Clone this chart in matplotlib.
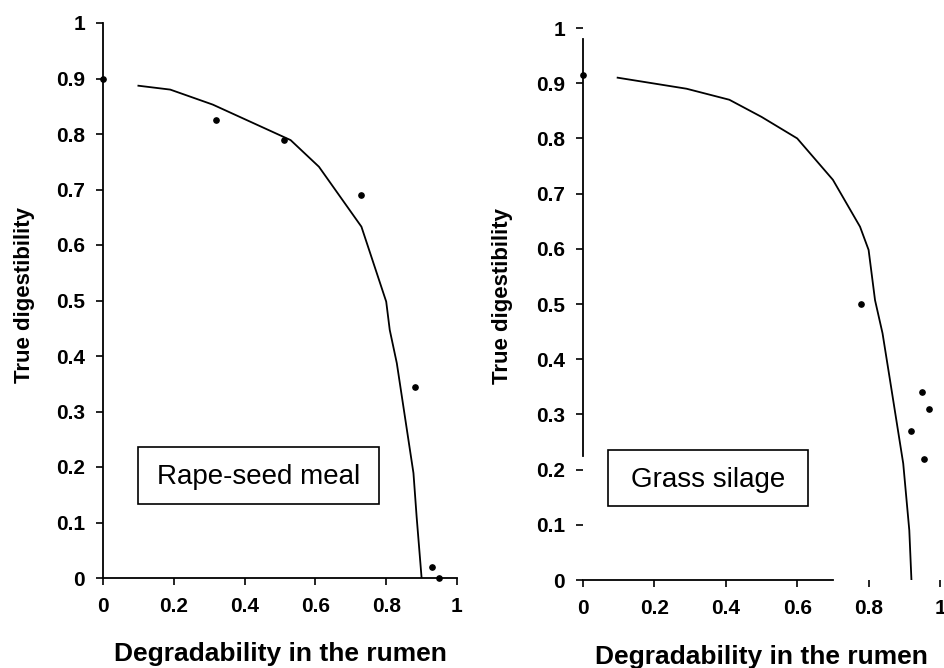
import matplotlib
matplotlib.use("Agg")
import matplotlib.pyplot as plt
from matplotlib.patches import Rectangle
from matplotlib.ticker import FuncFormatter

plt.rcParams["font.family"] = ["Liberation Sans", "DejaVu Sans"]

# ---------- data -------------------------------------------------------------

# rape-seed meal: measured points and fitted curve
rape_x = [0.0, 0.32, 0.51, 0.73, 0.88, 0.93, 0.95]
rape_y = [0.90, 0.825, 0.79, 0.69, 0.345, 0.02, 0.0]
rape_fit_x = [0.10, 0.19, 0.31, 0.53, 0.61, 0.73, 0.80, 0.81, 0.83, 0.877, 0.886, 0.90]
rape_fit_y = [0.887, 0.88, 0.853, 0.789, 0.741, 0.633, 0.498, 0.447, 0.387, 0.189, 0.11, 0.0]

# grass silage: measured points and fitted curve
grass_x = [0.0, 0.78, 0.95, 0.97, 0.92, 0.955]
grass_y = [0.915, 0.50, 0.34, 0.31, 0.27, 0.22]
grass_fit_x = [0.097, 0.29, 0.41, 0.50, 0.60, 0.70, 0.776, 0.80, 0.818, 0.839, 0.86, 0.897, 0.914, 0.92]
grass_fit_y = [0.91, 0.89, 0.87, 0.839, 0.80, 0.725, 0.64, 0.598, 0.507, 0.447, 0.362, 0.211, 0.09, 0.0]

x_ticks = [0, 0.2, 0.4, 0.6, 0.8, 1]
y_ticks = [0, 0.1, 0.2, 0.3, 0.4, 0.5, 0.6, 0.7, 0.8, 0.9, 1]

x_title = "Degradability in the rumen"
y_title = "True digestibility"


def fmt(v, _pos):
    return "%g" % v


def draw_panel(ax, px, py, fx, fy, name, box, ylab_xy, xlab_xy):
    ax.plot(fx, fy, color="black", lw=1.3)
    ax.plot(px, py, "o", color="black", ms=3.8, clip_on=False)

    ax.set_xlim(0, 1)
    ax.set_ylim(0, 1)
    ax.set_xticks(x_ticks)
    ax.set_yticks(y_ticks)
    ax.xaxis.set_major_formatter(FuncFormatter(fmt))
    ax.yaxis.set_major_formatter(FuncFormatter(fmt))
    ax.tick_params(direction="out", length=5, width=1.2, labelsize=15)
    ax.tick_params(axis="x", pad=9)
    ax.tick_params(axis="y", pad=8)
    for lab in ax.get_xticklabels() + ax.get_yticklabels():
        lab.set_fontweight("bold")

    for side in ("top", "right"):
        ax.spines[side].set_visible(False)
    for side in ("left", "bottom"):
        ax.spines[side].set_linewidth(1.3)

    ax.set_xlabel(x_title, fontsize=19, fontweight="bold")
    ax.set_ylabel(y_title, fontsize=16, fontweight="bold")
    ax.xaxis.set_label_coords(*xlab_xy)
    ax.yaxis.set_label_coords(*ylab_xy)

    # label box
    x0, y0, x1, y1 = box
    ax.add_patch(Rectangle((x0, y0), x1 - x0, y1 - y0, fill=False,
                           ec="black", lw=1.2))
    ax.text((x0 + x1) / 2, (y0 + y1) / 2 - 0.003, name, fontsize=20,
            ha="center", va="center")


fig = plt.figure(figsize=(9.44, 6.68), dpi=100)
ax1 = fig.add_axes([103 / 944, 90 / 668, 354 / 944, 555 / 668])
ax2 = fig.add_axes([583 / 944, 88 / 668, 357 / 944, 552 / 668])

draw_panel(ax1, rape_x, rape_y, rape_fit_x, rape_fit_y, "Rape-seed meal",
           (0.10, 0.133, 0.78, 0.236), (-0.192, 0.51), (0.5, -0.115))
draw_panel(ax2, grass_x, grass_y, grass_fit_x, grass_fit_y, "Grass silage",
           (0.069, 0.134, 0.631, 0.236), (-0.196, 0.514), (0.5, -0.118))

# broken axis lines on the grass silage panel
ax2.spines["left"].set_bounds(0.225, 0.98)
ax2.spines["bottom"].set_bounds(0, 0.70)

fig.savefig("out.png", dpi=100)
